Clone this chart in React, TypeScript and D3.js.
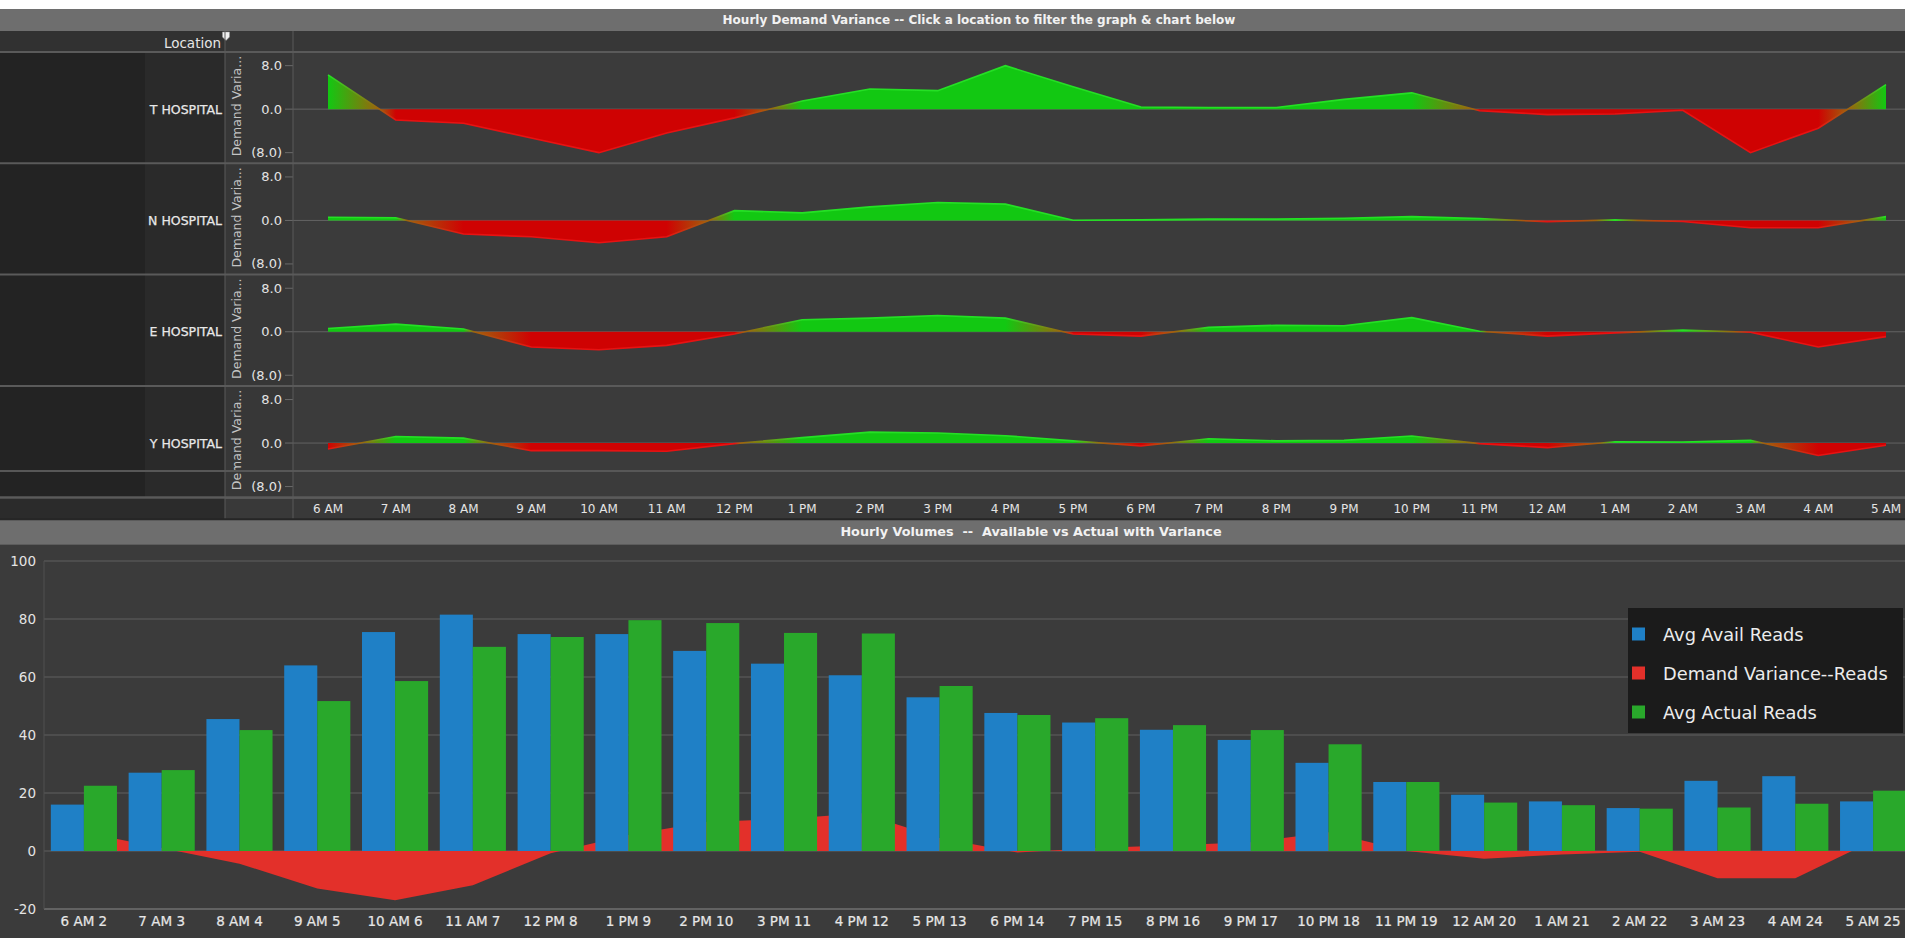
import React from "react";
import * as d3 from "d3";

// ---------- DATA ----------
const hours = ["6 AM","7 AM","8 AM","9 AM","10 AM","11 AM","12 PM","1 PM","2 PM","3 PM","4 PM","5 PM","6 PM","7 PM","8 PM","9 PM","10 PM","11 PM","12 AM","1 AM","2 AM","3 AM","4 AM","5 AM"];
const locations = ["T HOSPITAL", "N HOSPITAL", "E HOSPITAL", "Y HOSPITAL"];
const tHospital = [6.3, -2.0, -2.6, -5.3, -8.0, -4.4, -1.6, 1.5, 3.7, 3.4, 8.0, 4.1, 0.4, 0.3, 0.3, 1.8, 3.0, -0.3, -1.0, -0.9, -0.2, -8.0, -3.5, 4.5];
const nHospital = [0.6, 0.5, -2.5, -3.0, -4.1, -3.0, 1.8, 1.4, 2.5, 3.3, 3.0, 0.05, 0.1, 0.25, 0.25, 0.4, 0.7, 0.35, -0.25, 0.1, -0.2, -1.35, -1.35, 0.7];
const eHospital = [0.6, 1.4, 0.5, -2.8, -3.3, -2.5, -0.4, 2.2, 2.5, 3.0, 2.5, -0.4, -0.8, 0.8, 1.2, 1.1, 2.6, 0.1, -0.8, -0.2, 0.3, -0.1, -2.8, -0.9];
const yHospital = [-1.1, 1.2, 0.9, -1.4, -1.4, -1.5, -0.1, 1.0, 2.0, 1.85, 1.35, 0.4, -0.55, 0.8, 0.4, 0.5, 1.3, -0.1, -0.85, 0.25, 0.2, 0.5, -2.3, -0.4];
const varianceTicks = [8, 0, -8];

const categories = ["6 AM 2","7 AM 3","8 AM 4","9 AM 5","10 AM 6","11 AM 7","12 PM 8","1 PM 9","2 PM 10","3 PM 11","4 PM 12","5 PM 13","6 PM 14","7 PM 15","8 PM 16","9 PM 17","10 PM 18","11 PM 19","12 AM 20","1 AM 21","2 AM 22","3 AM 23","4 AM 24","5 AM 25"];
const avgAvail = [16, 27, 45.5, 64, 75.5, 81.5, 74.8, 74.8, 69, 64.6, 60.6, 53, 47.6, 44.3, 41.8, 38.3, 30.4, 23.8, 19.4, 17.1, 14.8, 24.2, 25.8, 17.1];
const avgActual = [22.5, 27.9, 41.7, 51.7, 58.6, 70.4, 73.8, 79.6, 78.6, 75.2, 75, 56.9, 46.9, 45.8, 43.4, 41.7, 36.8, 23.8, 16.7, 15.8, 14.6, 15, 16.3, 20.8];
const demandVariance = [6.5, 1, -4.4, -12.9, -17, -11.8, -0.8, 5.5, 10, 11, 13, 4.5, -0.5, 1, 2, 3, 6.5, 0, -2.7, -1.2, -0.3, -9.4, -9.4, 3.5];
const volumeTicks = [100, 80, 60, 40, 20, 0, -20];
const seriesNames = ["Avg Avail Reads", "Demand Variance--Reads", "Avg Actual Reads"];
const seriesColors = ["#1f80c6", "#e3302a", "#29a82b"];

// ---------- LAYOUT ----------
const W = 1905;
const H = 938;
const FONT = "'DejaVu Sans', 'Liberation Sans', sans-serif";
const TOP0 = 9;
const HEAD_Y = 31;
const PANEL_Y0 = 52;
const PANEL_H = 111.3;
const LEFT_DARK = 145;
const LABEL_COL = 225;
const PLOT_X = 293;

const GREEN = "#12c812";
const GREEN_L = "#25e025";
const RED = "#cf0202";
const RED_L = "#e81212";
const MID = "#a0620c";

function buildStops(values: number[], xs: number[], pos: string, neg: string) {
  const x0 = xs[0];
  const x1 = xs[xs.length - 1];
  const stops: { o: number; c: string }[] = [];
  for (let i = 0; i < values.length; i++) {
    stops.push({ o: (xs[i] - x0) / (x1 - x0), c: values[i] >= 0 ? pos : neg });
    if (i < values.length - 1 && (values[i] >= 0) !== (values[i + 1] >= 0)) {
      const t = values[i] / (values[i] - values[i + 1]);
      const xc = xs[i] + (xs[i + 1] - xs[i]) * t;
      stops.push({ o: (xc - x0) / (x1 - x0), c: MID });
    }
  }
  return stops;
}

export default function App() {
  const panelsData = [tHospital, nHospital, eHospital, yHospital];
  const xTop = d3.scalePoint<string>().domain(hours).range([328, 1886]);
  const xs = hours.map((h) => xTop(h) as number);
  const axisRowY = PANEL_Y0 + PANEL_H * 4;
  const title2Y = axisRowY + 22;
  const bottomY = title2Y + 25;

  // bottom chart scales
  const yB = d3.scaleLinear().domain([-20, 100]).range([909, 561]);
  const x0 = d3.scaleBand<string>().domain(categories).range([45, 1912]).paddingInner(0.15).paddingOuter(0.075);
  const x1 = d3.scaleBand<string>().domain(["avail", "actual"]).range([0, x0.bandwidth()]);
  const varArea = d3
    .area<number>()
    .x((_, i) => (x0(categories[i]) as number) + x0.bandwidth() / 2)
    .y0(yB(0))
    .y1((d) => yB(d));

  return (
    <div style={{ position: "absolute", left: 0, top: 0 }}>
      <svg width={W} height={H} style={{ display: "block", fontFamily: FONT }}>
        <rect x={0} y={0} width={W} height={H} fill="#ffffff" />
        {/* top title bar */}
        <rect x={0} y={TOP0} width={W} height={HEAD_Y - TOP0} fill="#6e6e6e" />
        <text x={979} y={(TOP0 + HEAD_Y) / 2} fill="#f2f2f2" fontSize={12} fontWeight="bold" textAnchor="middle" dominantBaseline="central">
          Hourly Demand Variance -- Click a location to filter the graph &amp; chart below
        </text>
        {/* header row */}
        <rect x={0} y={HEAD_Y} width={W} height={PANEL_Y0 - HEAD_Y} fill="#313131" />
        <rect x={LABEL_COL} y={HEAD_Y} width={W - LABEL_COL} height={PANEL_Y0 - HEAD_Y} fill="#373737" />
        <text x={221} y={(HEAD_Y + PANEL_Y0) / 2 + 1} fill="#e6e6e6" fontSize={13.5} textAnchor="end" dominantBaseline="central">
          Location
        </text>
        <path d={`M222.5,${HEAD_Y + 1} h7 v5 l-3.5,3.5 l-3.5,-3.5 z`} fill="#f0f0f0" stroke="#999" strokeWidth={0.5} />

        {panelsData.map((vals, pi) => {
          const top = PANEL_Y0 + pi * PANEL_H;
          const bot = top + PANEL_H;
          const zero = top + PANEL_H / 2 + 1.5;
          const y = d3.scaleLinear().domain([-8, 8]).range([zero + 43.5, zero - 43.5]);
          const area = d3
            .area<number>()
            .x((_, i) => xs[i])
            .y0(zero)
            .y1((d) => y(d));
          const line = d3
            .line<number>()
            .x((_, i) => xs[i])
            .y((d) => y(d));
          const fillStops = buildStops(vals, xs, GREEN, RED);
          const lineStops = buildStops(vals, xs, GREEN_L, RED_L);
          return (
            <g key={locations[pi]}>
              <defs>
                <linearGradient id={`fill-${pi}`} gradientUnits="userSpaceOnUse" x1={xs[0]} x2={xs[xs.length - 1]} y1={0} y2={0}>
                  {fillStops.map((s, k) => (
                    <stop key={k} offset={s.o} stopColor={s.c} />
                  ))}
                </linearGradient>
                <linearGradient id={`line-${pi}`} gradientUnits="userSpaceOnUse" x1={xs[0]} x2={xs[xs.length - 1]} y1={0} y2={0}>
                  {lineStops.map((s, k) => (
                    <stop key={k} offset={s.o} stopColor={s.c} />
                  ))}
                </linearGradient>
              </defs>
              <rect x={0} y={top} width={LEFT_DARK} height={PANEL_H} fill="#232323" />
              <rect x={LEFT_DARK} y={top} width={LABEL_COL - LEFT_DARK} height={PANEL_H} fill="#2a2a2a" />
              <rect x={LABEL_COL} y={top} width={PLOT_X - LABEL_COL} height={PANEL_H} fill="#373737" />
              <rect x={PLOT_X} y={top} width={W - PLOT_X} height={PANEL_H} fill="#3b3b3b" />
              <text x={222} y={zero} fill="#e8e8e8" fontSize={12.5} textAnchor="end" dominantBaseline="central" stroke="#e8e8e8" strokeWidth={0.25}>
                {locations[pi]}
              </text>
              <text
                transform={`translate(${241},${bot - 7}) rotate(-90)`}
                fill="#c4c4c4"
                fontSize={12.5}
                textAnchor="start"
              >
                Demand Varia...
              </text>
              {varianceTicks.map((t) => (
                <g key={t}>
                  <text x={282} y={y(t)} fill="#e4e4e4" fontSize={13} textAnchor="end" dominantBaseline="central">
                    {t === 0 ? "0.0" : t > 0 ? t.toFixed(1) : `(${Math.abs(t).toFixed(1)})`}
                  </text>
                  <line x1={285} x2={PLOT_X} y1={y(t)} y2={y(t)} stroke="#6a6a6a" strokeWidth={1} />
                </g>
              ))}
              <line x1={PLOT_X} x2={W} y1={zero} y2={zero} stroke="#636363" strokeWidth={1} />
              <path d={area(vals) || ""} fill={`url(#fill-${pi})`} />
              <path d={line(vals) || ""} fill="none" stroke={`url(#line-${pi})`} strokeWidth={1.6} />
              {pi === 3 && <line x1={0} x2={W} y1={471} y2={471} stroke="#575757" strokeWidth={2} />}
            </g>
          );
        })}
        {/* row separators */}
        {d3.range(5).map((k) => (
          <line key={k} x1={0} x2={W} y1={PANEL_Y0 + k * PANEL_H} y2={PANEL_Y0 + k * PANEL_H} stroke="#5a5a5a" strokeWidth={2} />
        ))}
        {/* x axis row */}
        <rect x={0} y={axisRowY + 1} width={LABEL_COL} height={title2Y - axisRowY - 1} fill="#2b2b2b" />
        <rect x={LABEL_COL} y={axisRowY + 1} width={W - LABEL_COL} height={title2Y - axisRowY - 1} fill="#393939" />
        {hours.map((h, i) => (
          <text key={h} x={xs[i]} y={(axisRowY + title2Y) / 2 + 1} fill="#e4e4e4" fontSize={12} textAnchor="middle" dominantBaseline="central">
            {h}
          </text>
        ))}
        {/* vertical column lines */}
        <line x1={LABEL_COL} x2={LABEL_COL} y1={HEAD_Y} y2={title2Y} stroke="#5a5a5a" strokeWidth={1} />
        <line x1={PLOT_X} x2={PLOT_X} y1={HEAD_Y} y2={title2Y} stroke="#5a5a5a" strokeWidth={1} />

        {/* bottom title bar */}
        <rect x={0} y={title2Y} width={W} height={bottomY - title2Y} fill="#6e6e6e" />
        <line x1={0} x2={W} y1={title2Y} y2={title2Y} stroke="#262626" strokeWidth={2} />
        <text x={1031} y={(title2Y + bottomY) / 2} fill="#f2f2f2" fontSize={12.8} fontWeight="bold" textAnchor="middle" dominantBaseline="central" style={{ whiteSpace: "pre" }}>
          {"Hourly Volumes  --  Available vs Actual with Variance"}
        </text>

        {/* bottom chart */}
        <rect x={0} y={bottomY} width={W} height={H - bottomY} fill="#3b3b3b" />
        {volumeTicks.map((t) => (
          <g key={t}>
            <line x1={44} x2={W} y1={yB(t)} y2={yB(t)} stroke={t === -20 ? "#626262" : "#545454"} strokeWidth={t === -20 ? 2 : 1.5} />
            <text x={36} y={yB(t)} fill="#e4e4e4" fontSize={13.5} textAnchor="end" dominantBaseline="central">
              {t}
            </text>
          </g>
        ))}
        <line x1={44} x2={44} y1={yB(100)} y2={yB(-20)} stroke="#505050" strokeWidth={1} />
        <path d={varArea(demandVariance) || ""} fill={seriesColors[1]} />
        {categories.map((c, i) => (
          <g key={c} transform={`translate(${x0(c)},0)`}>
            <rect x={x1("avail")} y={yB(avgAvail[i])} width={x1.bandwidth()} height={yB(0) - yB(avgAvail[i])} fill={seriesColors[0]} />
            <rect x={x1("actual")} y={yB(avgActual[i])} width={x1.bandwidth()} height={yB(0) - yB(avgActual[i])} fill={seriesColors[2]} />
            <text x={x0.bandwidth() / 2} y={921} fill="#e6e6e6" fontSize={13.5} textAnchor="middle" dominantBaseline="central" stroke="#e6e6e6" strokeWidth={0.2}>
              {c}
            </text>
          </g>
        ))}
        {/* legend */}
        <rect x={1628} y={608} width={275} height={125} fill="#1b1b1b" />
        {seriesNames.map((n, i) => (
          <g key={n}>
            <rect x={1632} y={634 + i * 39 - 6.5} width={13} height={13} fill={seriesColors[i]} />
            <text x={1663} y={634 + i * 39} fill="#ececec" fontSize={17.8} dominantBaseline="central">
              {n}
            </text>
          </g>
        ))}
      </svg>
    </div>
  );
}
